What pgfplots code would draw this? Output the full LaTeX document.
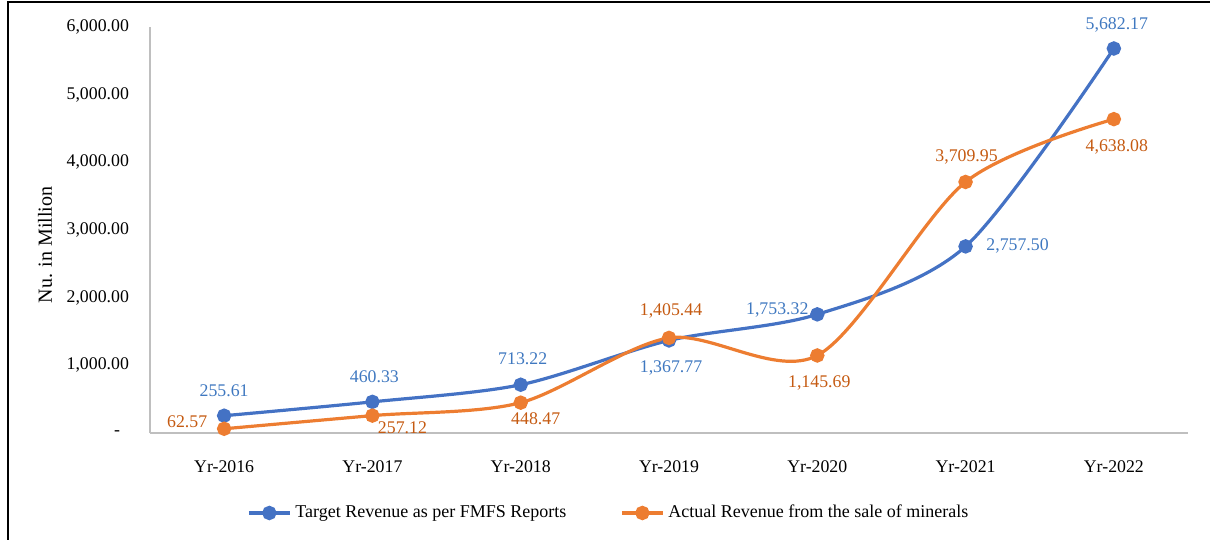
\documentclass[border=0pt]{standalone}
\usepackage{fontspec}
\setmainfont{Liberation Serif}
\usepackage{pgfplots}
\usepackage{pgfplotstable}
\pgfplotsset{compat=1.18}

\definecolor{tblue}{HTML}{4472C4}
\definecolor{torange}{HTML}{ED7D31}
\definecolor{lblue}{HTML}{3F78C0}
\definecolor{lorange}{HTML}{C55A11}
\definecolor{axgray}{HTML}{BFBFBF}
\newcommand\lbl{\fontsize{8.9}{10}\selectfont}

% x y, label offsets (pt), label text
\pgfplotstableread{
x y dx dy lab
0 255.61 0 12.5 255.61
1 460.33 1 12.5 460.33
2 713.22 1 13 713.22
3 1367.77 1 -14 1,367.77
4 1753.32 -20 2 1,753.32
5 2757.50 26 0 2,757.50
6 5682.17 1.5 12 5,682.17
}\target

\pgfplotstableread{
x y dx dy lab
0 62.57 -18.5 3.5 62.57
1 257.12 15 -6 257.12
2 448.47 7.5 -8 448.47
3 1405.44 1 13.5 1,405.44
4 1145.69 1 -14 1,145.69
5 3709.95 0.5 12.5 3,709.95
6 4638.08 1.5 -14 4,638.08
}\actual

\begin{document}
\begin{tikzpicture}
\begin{axis}[
    scale only axis,
    width=519pt, height=203pt,
    xmin=-0.5, xmax=6.5, ymin=0, ymax=6000,
    xtick={0,...,6},
    xticklabels={Yr-2016,Yr-2017,Yr-2018,Yr-2019,Yr-2020,Yr-2021,Yr-2022},
    ytick={0,1000,...,6000},
    yticklabels={-\hphantom{0},{1,000.00},{2,000.00},{3,000.00},{4,000.00},{5,000.00},{6,000.00}},
    axis lines*=left,
    axis line style={axgray, line width=0.8pt},
    major tick length=0pt,
    clip=false,
    tick label style={font=\lbl},
    xticklabel style={anchor=center, yshift=-17pt},
    yticklabel style={anchor=east, xshift=-7pt},
    ylabel={Nu. in Million},
    ylabel style={font=\fontsize{10}{12}\selectfont, at={(axis description cs:-0.101,0.463)}, anchor=center},
    legend style={draw=none, fill=none, at={(axis description cs:0.443,-0.197)}, anchor=center,
        font=\fontsize{9}{11}\selectfont,
        /tikz/every even column/.append style={column sep=25pt}},
    legend columns=2,
    legend image code/.code={\draw[mark repeat=2,mark phase=2] plot coordinates {(0cm,0cm) (0.36cm,0cm) (0.72cm,0cm)};},
]
\addplot[tblue, line width=1.6pt, smooth, mark=*, mark size=2.8pt, mark options={solid, fill=tblue},
    nodes near coords, point meta=explicit symbolic,
    visualization depends on={\thisrow{dx}\as\dx},
    visualization depends on={\thisrow{dy}\as\dy},
    nodes near coords style={text=lblue, font=\lbl, anchor=center, xshift=\dx pt, yshift=\dy pt}]
    table[x=x, y=y, meta=lab]{\target};
\addplot[torange, line width=1.6pt, smooth, mark=*, mark size=2.8pt, mark options={solid, fill=torange},
    nodes near coords, point meta=explicit symbolic,
    visualization depends on={\thisrow{dx}\as\dx},
    visualization depends on={\thisrow{dy}\as\dy},
    nodes near coords style={text=lorange, font=\lbl, anchor=center, xshift=\dx pt, yshift=\dy pt}]
    table[x=x, y=y, meta=lab]{\actual};
\legend{Target Revenue as per FMFS Reports, Actual Revenue from the sale of minerals}

\coordinate (bl) at (rel axis cs:-0.1445,-0.2635);
\coordinate (tr) at (rel axis cs:1.0212,1.0665);
\coordinate (fbl) at (rel axis cs:-0.1368,-0.35);
\coordinate (ftl) at (rel axis cs:-0.1368,1.0616);
\coordinate (ftr) at (rel axis cs:1.1,1.0616);
\end{axis}
\draw[black, line width=0.6pt] (fbl) -- (ftl) -- (ftr);
\pgfresetboundingbox
\path[use as bounding box] (bl) rectangle (tr);
\end{tikzpicture}
\end{document}
